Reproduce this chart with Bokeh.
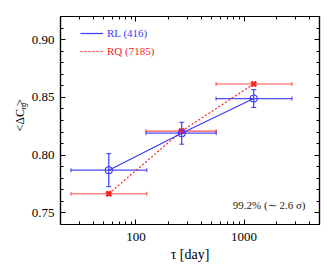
import math
from bokeh.plotting import figure
from bokeh.models import (ColumnDataSource, Whisker, TeeHead, Label, Legend, LegendItem,
                          FixedTicker, LogAxis, LinearAxis, PrintfTickFormatter, Range1d)
from bokeh.embed import file_html
from bokeh.resources import INLINE

# ---- data ----
tau = [56, 265, 1230]          # bin centre [day]
tau_lo = [25, 124, 551]        # bin lower edge
tau_hi = [126, 553, 2783]      # bin upper edge
rl_mean = [0.787, 0.819, 0.849]
rl_err = [0.0143, 0.0095, 0.0077]
rq_mean = [0.7666, 0.8208, 0.8616]
rq_err = [0.0015, 0.0015, 0.0015]
rl_label = "RL (416)"
rq_label = "RQ (7185)"
x_major = [100, 1000]
y_major = [0.75, 0.80, 0.85, 0.90]
note = "99.2% (\u223c 2.6 \u03c3)"
x_title = "\u03c4 [day]"

FONT = "Liberation Serif"
BLUE = "#3838ff"
RED = "#ff2020"

X0, X1 = 20, 5000
Y0, Y1 = 0.74, 0.92

p = figure(width=324, height=264, x_axis_type="log",
           x_range=Range1d(X0, X1), y_range=Range1d(Y0, Y1),
           output_backend="svg", toolbar_location=None,
           min_border_left=60, min_border_right=5, min_border_top=16, min_border_bottom=38)
p.xgrid.visible = False
p.ygrid.visible = False
p.outline_line_color = "black"
p.outline_line_width = 1.2
p.background_fill_color = "white"
p.border_fill_color = "white"

x_minor = [m * 10 ** e for e in (1, 2, 3) for m in range(2, 10)]
y_minor = [round(0.74 + 0.01 * i, 2) for i in range(19)]
xt = FixedTicker(ticks=x_major, minor_ticks=x_minor)
yt = FixedTicker(ticks=y_major, minor_ticks=y_minor)


def style(ax, labels=True, standoff=6):
    ax.major_tick_in = 5
    ax.major_tick_out = 0
    ax.minor_tick_in = 3
    ax.minor_tick_out = 0
    ax.axis_line_color = "black"
    ax.axis_line_width = 1.2
    ax.major_tick_line_color = "black"
    ax.minor_tick_line_color = "black"
    ax.major_label_text_font = FONT
    ax.major_label_text_font_size = "13px"
    ax.major_label_text_color = "black"
    ax.major_label_standoff = standoff
    if not labels:
        ax.major_label_text_font_size = "1px"
        ax.major_label_text_alpha = 0
        ax.major_label_standoff = 0


p.xaxis.ticker = xt
p.xaxis.formatter = PrintfTickFormatter(format="%d")
p.yaxis.ticker = yt
p.yaxis.formatter = PrintfTickFormatter(format="%.2f")
style(p.xaxis[0], True, 8)
style(p.yaxis[0], True, 6)
p.xaxis.axis_label = x_title
p.xaxis.axis_label_text_font = FONT
p.xaxis.axis_label_text_font_size = "14px"
p.xaxis.axis_label_text_font_style = "normal"
p.xaxis.axis_label_text_color = "black"
p.xaxis.axis_label_standoff = 3

top = LogAxis(ticker=xt)
style(top, False)
p.add_layout(top, "above")
right = LinearAxis(ticker=yt)
style(right, False)
p.add_layout(right, "right")

src = ColumnDataSource(dict(
    tau=tau, lo=tau_lo, hi=tau_hi,
    rl=rl_mean, rl_lo=[m - e for m, e in zip(rl_mean, rl_err)], rl_hi=[m + e for m, e in zip(rl_mean, rl_err)],
    rq=rq_mean, rq_lo=[m - e for m, e in zip(rq_mean, rq_err)], rq_hi=[m + e for m, e in zip(rq_mean, rq_err)],
))

# RQ (red) error bars and line
p.add_layout(Whisker(source=src, base="rq", lower="lo", upper="hi", dimension="width",
                     line_color=RED, line_alpha=0.8, line_width=1.2,
                     lower_head=TeeHead(size=4, line_color=RED, line_alpha=0.8),
                     upper_head=TeeHead(size=4, line_color=RED, line_alpha=0.8)))
p.add_layout(Whisker(source=src, base="tau", lower="rq_lo", upper="rq_hi", dimension="height",
                     line_color=RED, line_width=1.2,
                     lower_head=TeeHead(size=4, line_color=RED),
                     upper_head=TeeHead(size=4, line_color=RED)))
rq_line = p.line("tau", "rq", source=src, line_color=RED, line_width=1.2, line_dash="2 2")
p.scatter("tau", "rq", source=src, marker="x", size=7, line_color=RED, line_width=2.5)

# RL (blue)
p.add_layout(Whisker(source=src, base="rl", lower="lo", upper="hi", dimension="width",
                     line_color=BLUE, line_alpha=0.9, line_width=1.2,
                     lower_head=TeeHead(size=4, line_color=BLUE),
                     upper_head=TeeHead(size=4, line_color=BLUE)))
p.add_layout(Whisker(source=src, base="tau", lower="rl_lo", upper="rl_hi", dimension="height",
                     line_color=BLUE, line_width=1.2,
                     lower_head=TeeHead(size=5, line_color=BLUE),
                     upper_head=TeeHead(size=5, line_color=BLUE)))
rl_line = p.line("tau", "rl", source=src, line_color=BLUE, line_width=1.2)
p.scatter("tau", "rl", source=src, marker="circle", size=7, fill_color=None,
          line_color=BLUE, line_width=1.1)

# small markers for the legend only
leg_rl = p.scatter(x=[], y=[], marker="circle", size=5, fill_color=None, line_color=BLUE, line_width=1)
leg_rq = p.scatter(x=[], y=[], marker="x", size=5, line_color=RED, line_width=1.5)

for item, color, loc in ((LegendItem(label=rl_label, renderers=[rl_line, leg_rl]), BLUE, (20, 185)),
                         (LegendItem(label=rq_label, renderers=[rq_line, leg_rq]), RED, (20, 167))):
    lg = Legend(items=[item], location=loc, background_fill_alpha=0, border_line_alpha=0,
                padding=0, margin=0, spacing=0, glyph_width=23, glyph_height=12,
                label_height=12, label_standoff=4, label_text_font=FONT,
                label_text_font_size="11px", label_text_color=color)
    p.add_layout(lg)


# pixel -> data helpers for text placement (frame spans x 60..319, y 16..226)
def xd(px):
    return 10 ** (math.log10(X0) + (px - 60) / 259 * (math.log10(X1) - math.log10(X0)))


def yd(py):
    return Y0 + (226 - py) / 210 * (Y1 - Y0)


p.add_layout(Label(x=xd(305), y=yd(206), text=note, text_font=FONT, text_font_size="11px",
                   text_color="#222222", text_align="right", text_baseline="middle"))

# y-axis label  <ΔC_rg>  (placed in the left side panel so it is not clipped)
ang = math.pi / 2
p.add_layout(Label(x=xd(19), y=yd(132), text="<\u0394C  >", angle=ang, text_font=FONT,
                   text_font_size="12px", text_color="black",
                   text_align="left", text_baseline="alphabetic"), "left")
p.add_layout(Label(x=xd(22.5), y=yd(110), text="rg", angle=ang, text_font=FONT, text_font_style="italic",
                   text_font_size="8px", text_color="black",
                   text_align="left", text_baseline="alphabetic"), "left")

open("out.html", "w").write(file_html(p, INLINE))
